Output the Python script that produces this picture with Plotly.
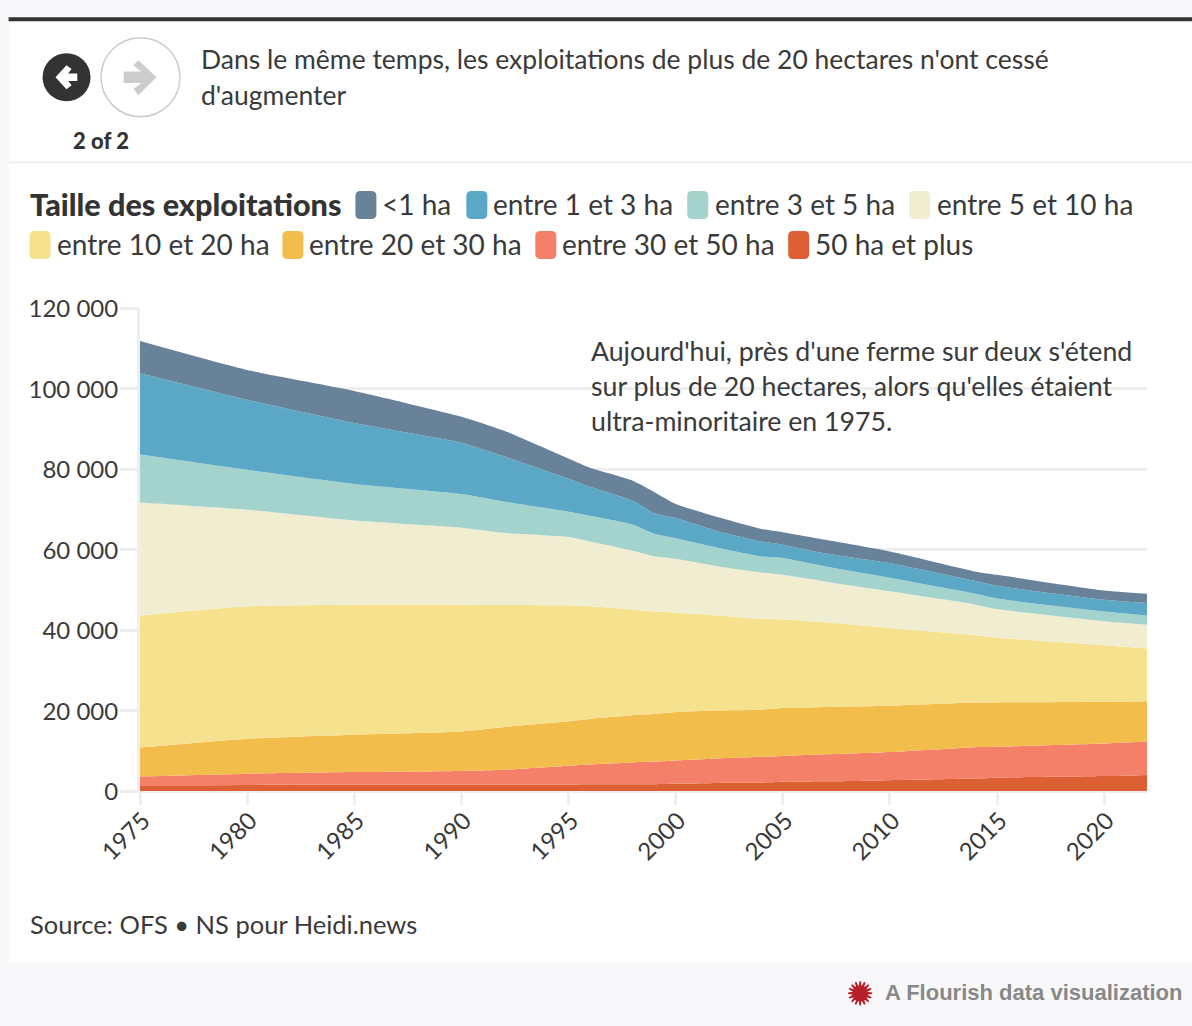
import math

import plotly.graph_objects as go

W, H = 1192, 1026
# plot area in page pixels
LEFT, RIGHT, TOP, BOTTOM = 139.5, 1147, 308, 791.5

FONT = "Lato"
TEXT = "#3a3a3a"

years = [1975, 1980, 1985, 1990, 1992, 1995, 1996, 1998, 1999, 2000, 2002, 2004, 2005, 2007, 2010, 2014, 2015, 2020, 2022]

ha_50_plus = [1400, 1500, 1600, 1600, 1600, 1600, 1650, 1700, 1700, 1800, 2000, 2100, 2300, 2400, 2700, 3100, 3300, 3700, 4000]
ha_30_50 = [2200, 2800, 3100, 3400, 3700, 4700, 4950, 5400, 5600, 5800, 6100, 6400, 6400, 6700, 7000, 7800, 7700, 8100, 8300]
ha_20_30 = [7200, 8700, 9300, 9800, 10600, 11000, 11300, 11700, 11800, 12000, 11900, 11700, 11900, 11800, 11500, 11100, 11000, 10400, 10000]
ha_10_20 = [32800, 32900, 32300, 31500, 30300, 28800, 28000, 26300, 25500, 24700, 23600, 22600, 22000, 21000, 19300, 16700, 16100, 14000, 13100]
ha_5_10 = [28100, 24000, 20900, 19100, 17900, 17000, 16100, 14600, 13700, 13400, 12200, 11500, 11100, 10100, 9100, 7600, 7100, 6000, 5900]
ha_3_5 = [11900, 9900, 9100, 8400, 7800, 6300, 6400, 6500, 5600, 5100, 4600, 4000, 4200, 3800, 3400, 2700, 2600, 2400, 2300]
ha_1_3 = [20200, 17400, 15100, 12700, 11200, 8200, 7200, 5900, 5100, 5000, 4100, 3700, 3300, 3200, 3600, 3200, 3200, 2900, 3100]
ha_below_1 = [8000, 7400, 8000, 6500, 6400, 5000, 4700, 5000, 5300, 3500, 3500, 3100, 3100, 3400, 2900, 2300, 2700, 2300, 2300]

# bottom of the stack first
series = [
    ("50 ha et plus", ha_50_plus, "#dc6034"),
    ("entre 30 et 50 ha", ha_30_50, "#f58069"),
    ("entre 20 et 30 ha", ha_20_30, "#f3bd4b"),
    ("entre 10 et 20 ha", ha_10_20, "#f6e18e"),
    ("entre 5 et 10 ha", ha_5_10, "#f0edd0"),
    ("entre 3 et 5 ha", ha_3_5, "#a4d3ce"),
    ("entre 1 et 3 ha", ha_1_3, "#5aa8c6"),
    ("&lt;1 ha", ha_below_1, "#688299"),
]

y_ticks = [0, 20000, 40000, 60000, 80000, 100000, 120000]
y_tick_labels = ["0", "20 000", "40 000", "60 000", "80 000", "100 000", "120 000"]
x_ticks = [1975, 1980, 1985, 1990, 1995, 2000, 2005, 2010, 2015, 2020]

title_lines = ["Dans le même temps, les exploitations de plus de 20 hectares n'ont cessé", "d'augmenter"]
note_lines = [
    "Aujourd'hui, près d'une ferme sur deux s'étend",
    "sur plus de 20 hectares, alors qu'elles étaient",
    "ultra-minoritaire en 1975.",
]

# swatch left edge, text left edge, row centre, series index
legend_items = [
    (355, 382, 205, 7), (466, 493, 205, 6), (687, 715, 205, 5), (909, 937, 205, 4),
    (29, 57, 245, 3), (282, 309, 245, 2), (535, 562, 245, 1), (788, 815, 245, 0),
]


def px(x):
    return (x - LEFT) / (RIGHT - LEFT)


def py(y):
    return (BOTTOM - y) / (BOTTOM - TOP)


def rect(x0, y0, x1, y1, color):
    return dict(type="rect", xref="paper", yref="paper", layer="below",
                x0=px(x0), x1=px(x1), y0=py(y0), y1=py(y1),
                fillcolor=color, line=dict(width=0))


def polygon(points, color, closed=True):
    d = "M" + " L".join(f"{px(x):.5f},{py(y):.5f}" for x, y in points)
    return dict(type="path", xref="paper", yref="paper", path=d + (" Z" if closed else ""),
                fillcolor=color, line=dict(color=color, width=1.5))


def rounded(x0, y0, x1, y1, r, color):
    d = (f"M{px(x0 + r):.5f},{py(y0):.5f} L{px(x1 - r):.5f},{py(y0):.5f} "
         f"Q{px(x1):.5f},{py(y0):.5f} {px(x1):.5f},{py(y0 + r):.5f} L{px(x1):.5f},{py(y1 - r):.5f} "
         f"Q{px(x1):.5f},{py(y1):.5f} {px(x1 - r):.5f},{py(y1):.5f} L{px(x0 + r):.5f},{py(y1):.5f} "
         f"Q{px(x0):.5f},{py(y1):.5f} {px(x0):.5f},{py(y1 - r):.5f} L{px(x0):.5f},{py(y0 + r):.5f} "
         f"Q{px(x0):.5f},{py(y0):.5f} {px(x0 + r):.5f},{py(y0):.5f} Z")
    return dict(type="path", xref="paper", yref="paper", path=d, fillcolor=color, line=dict(width=0))


def circle(cx, cy, r, fill, line_color=None, line_width=0):
    return dict(type="circle", xref="paper", yref="paper",
                x0=px(cx - r), x1=px(cx + r), y0=py(cy - r), y1=py(cy + r),
                fillcolor=fill, line=dict(color=line_color, width=line_width))


def label(x, y, text, size, color=TEXT, anchor="left", family=FONT, weight="normal"):
    # annotations carry 2px of box padding, taken back here
    shift = {"left": -2, "right": 2, "center": 0}[anchor]
    return dict(xref="paper", yref="paper", x=px(x), y=py(y), text=text, showarrow=False,
                xanchor=anchor, yanchor="middle", xshift=shift, yshift=1,
                font=dict(family=family, size=size, color=color, weight=weight))


fig = go.Figure()

for name, values, color in series:
    fig.add_trace(go.Scatter(
        x=years,
        y=values,
        name=name,
        mode="lines",
        stackgroup="one",
        fillcolor=color,
        line=dict(width=0, shape="spline", smoothing=0.5, color=color),
        showlegend=False,
    ))

shapes = [
    rect(8, 17, W, 963, "white"),
    rect(8, 17, W, 21, "#333333"),
    rect(8, 161, W, 163, "#eeeeee"),
    circle(66, 77, 24, "#333333"),
    circle(140, 77, 39.5, "white", "#cccccc", 1.5),
    polygon([(76, 74), (66, 74), (70, 69), (66, 66), (56, 77), (66, 88), (70, 85), (66, 80), (76, 80)], "white"),
    polygon([(124, 72), (143, 72), (134, 65), (138, 61), (155, 77), (138, 94), (134, 89), (143, 82), (124, 82)], "#cccccc"),
]

# Flourish logo, a small burst of spikes
burst = []
for i in range(32):
    angle = math.pi * i / 16
    radius = 12 if i % 2 == 0 else 5
    burst.append((860 + radius * math.cos(angle), 994 + radius * math.sin(angle)))
shapes.append(polygon(burst, "#b5202b"))

annotations = [
    label(201, 60, title_lines[0], 26.5),
    label(201, 96, title_lines[1], 26.5),
    label(100, 141, "2 of 2", 22, color="#333333", anchor="center", weight=900),
    label(29, 205, "Taille des exploitations", 30.6, color="#333333", weight=900),
    label(29.5, 926, "Source: OFS • NS pour Heidi.news", 25.5),
    label(1182, 994, "<b>A Flourish data visualization</b>", 22, color="#888888", anchor="right", family="Liberation Sans"),
]

for swatch_x, text_x, row_y, idx in legend_items:
    name, _, color = series[idx]
    shapes.append(rounded(swatch_x, row_y - 14, swatch_x + 21, row_y + 14, 5, color))
    annotations.append(label(text_x - 0.5, row_y, name, 28))

for i, line in enumerate(note_lines):
    annotations.append(label(591, 352 + 35 * i, line, 26.7))

fig.update_layout(
    width=W,
    height=H,
    margin=dict(l=LEFT, r=W - RIGHT, t=TOP, b=H - BOTTOM, pad=0),
    paper_bgcolor="#f8f8fa",
    plot_bgcolor="white",
    font=dict(family=FONT, size=24, color=TEXT),
    shapes=shapes,
    annotations=annotations,
    hovermode=False,
)

fig.update_xaxes(
    range=[1975, 2022],
    tickvals=x_ticks,
    tickangle=-45,
    ticks="outside",
    ticklen=12,
    tickwidth=3,
    tickcolor="#eeeeee",
    ticklabelstandoff=-8,
    ticklabelshift=3,
    showgrid=False,
    showline=True,
    linecolor="#eeeeee",
    linewidth=2,
    zeroline=False,
    tickfont=dict(family=FONT, size=24, color=TEXT),
)
fig.update_yaxes(
    range=[0, 120000],
    tickvals=y_ticks,
    ticktext=y_tick_labels,
    ticks="outside",
    ticklen=17,
    tickwidth=3,
    tickcolor="#eeeeee",
    ticklabelstandoff=-3,
    ticklabelshift=1,
    showgrid=True,
    gridcolor="#eeeeee",
    gridwidth=3,
    showline=True,
    linecolor="#eeeeee",
    linewidth=3,
    zeroline=False,
    tickfont=dict(family=FONT, size=24, color=TEXT),
)

fig.write_html(
    "out.html",
    config=dict(displayModeBar=False),
    post_script="document.body.style.margin='0';document.body.style.overflow='hidden';",
)
